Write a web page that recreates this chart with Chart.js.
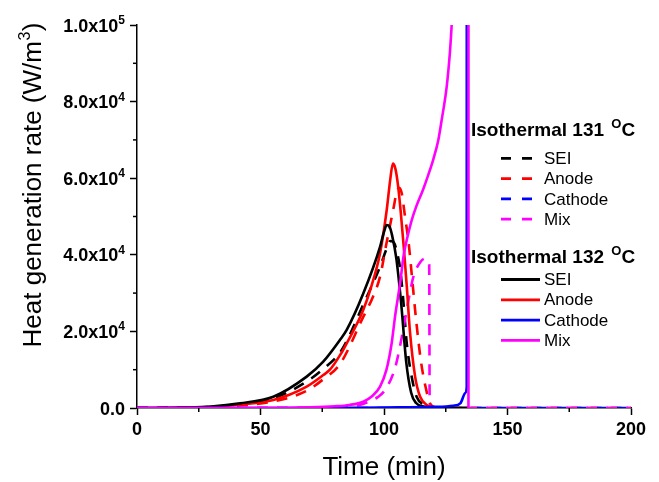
<!DOCTYPE html>
<html>
<head>
<meta charset="utf-8">
<script src="https://cdn.jsdelivr.net/npm/chart.js@4.4.0/dist/chart.umd.min.js"></script>
<style>
  body { margin: 0; background: #fff; }
</style>
</head>
<body>
<canvas id="heatChart" width="659" height="482"></canvas>
<script>
// time (min) and heat generation rate (W/m^3)
const components = ["SEI", "Anode", "Cathode", "Mix"];
const groupTemps = [131, 132];
const xTicks = [0, 50, 100, 150, 200];
const yTicks = [0, 20000, 40000, 60000, 80000, 100000];

// isothermal 131 C (dashed)
const sei131T = [0, 20, 30, 41.7, 55.2, 68.7, 75.4, 82.2, 84.9, 91.6, 98.4, 101, 102.5, 104, 105.5, 106.5, 107.8, 109.2, 111.2, 113.2, 115.9, 120, 125, 200];
const sei131V = [0, 80, 300, 1000, 2500, 6900, 10200, 14500, 17500, 27000, 36900, 41500, 43600, 43200, 40000, 36500, 28200, 17000, 8200, 2950, 1000, 150, 0, 0];
const anode131T = [0, 20, 30, 41.7, 55.2, 68.7, 75.4, 82.2, 91.6, 95.5, 98.4, 101, 103.8, 105.2, 106.2, 107.2, 108.5, 110, 111.5, 113, 115, 117, 118.6, 121, 125, 200];
const anode131V = [0, 50, 200, 700, 1700, 4500, 7500, 11500, 23800, 29000, 34300, 43000, 52000, 56500, 57500, 56000, 50000, 43000, 33000, 23000, 12000, 5000, 1200, 100, 0, 0];
const cathode131T = [0, 100, 200];
const cathode131V = [0, 0, 0];
const mix131T = [0, 60, 80, 90, 95, 97.6, 100.4, 104.5, 107.5, 110, 112, 114.6, 116.6, 118.3, 118.5, 125, 200];
const mix131V = [0, 0, 100, 800, 2000, 2900, 4700, 10500, 19500, 28500, 34500, 38000, 39000, 37500, 0, 0, 0];

// isothermal 132 C (solid), runs stop at thermal runaway
const sei132T = [0, 20, 30, 41.7, 55.2, 68.7, 75.4, 82.2, 84.9, 91.6, 98.4, 100, 101.1, 102.2, 103.3, 105, 107, 109, 111, 113, 116, 120, 125, 134.2];
const sei132V = [0, 100, 350, 1200, 2950, 8200, 12100, 17800, 20400, 29900, 42100, 46000, 47800, 47400, 45000, 39000, 27000, 12000, 4000, 1300, 400, 80, 0, 0];
const anode132T = [0, 20, 30, 41.7, 55.2, 68.7, 75.4, 78.1, 82.2, 84.9, 91.6, 95, 98.4, 101.1, 102.5, 103.6, 104.6, 105.6, 106.8, 108, 109.2, 110.5, 112.6, 114.6, 117.3, 120, 125, 134.2];
const anode132V = [0, 60, 250, 900, 2100, 5600, 8600, 10000, 13800, 16900, 25600, 32000, 40400, 51700, 59500, 63800, 62500, 58500, 51000, 42000, 32000, 20000, 8200, 3000, 800, 150, 0, 0];
const cathode132T = [0, 70, 80, 100, 120, 128, 131, 133, 133.5, 133.9];
const cathode132V = [0, 0, 50, 150, 300, 600, 1300, 4000, 5500, 3000000];
const mix132T = [0, 50, 70, 80, 86, 91.6, 95, 98.4, 101, 103.1, 104.5, 106.5, 108, 109.8, 111.2, 113, 115.8, 118, 120, 122, 123.3, 125.4, 126.7, 127.4, 128, 130, 134.0, 134.2];
const mix132V = [0, 30, 200, 450, 800, 1650, 3000, 5600, 10000, 16900, 24000, 32500, 40000, 45500, 49000, 52500, 57000, 61000, 65000, 70000, 75000, 84000, 93000, 100000, 108000, 130000, 3000000, 0];

const colors = { SEI: "#000000", Anode: "#ff0000", Cathode: "#0000ff", Mix: "#ff00ff" };
const FONT = "'Liberation Sans', Arial, sans-serif";

function pts(t, v) {
  return t.map((x, i) => ({ x, y: v[i] }));
}

function series(name, temp, t, v, dashed) {
  return {
    label: name,
    temp,
    data: pts(t, v),
    borderColor: colors[name],
    borderWidth: 2.6,
    borderDash: dashed ? [11, 9] : [],
    pointRadius: 0,
    fill: false,
    cubicInterpolationMode: "monotone",
  };
}

// first dataset is drawn on top
const datasets = [
  series("Mix", 132, mix132T, mix132V, false),
  series("Cathode", 132, cathode132T, cathode132V, false),
  series("SEI", 132, sei132T, sei132V, false),
  series("Anode", 132, anode132T, anode132V, false),
  series("Mix", 131, mix131T, mix131V, true),
  series("Cathode", 131, cathode131T, cathode131V, true),
  series("Anode", 131, anode131T, anode131V, true),
  series("SEI", 131, sei131T, sei131V, true),
];

// minor ticks, y labels with exponents, axis titles and the grouped legend
const decorations = {
  id: "decorations",
  afterDraw(chart) {
    const ctx = chart.ctx;
    const xs = chart.scales.x;
    const ys = chart.scales.y;
    const area = chart.chartArea;
    ctx.save();
    ctx.strokeStyle = "#000";
    ctx.fillStyle = "#000";
    ctx.lineWidth = 1.5;

    // minor ticks halfway between the labelled ones
    for (let i = 0; i < xTicks.length - 1; i++) {
      const px = xs.getPixelForValue((xTicks[i] + xTicks[i + 1]) / 2);
      ctx.beginPath();
      ctx.moveTo(px, area.bottom);
      ctx.lineTo(px, area.bottom + 4);
      ctx.stroke();
    }
    for (let i = 0; i < yTicks.length - 1; i++) {
      const py = ys.getPixelForValue((yTicks[i] + yTicks[i + 1]) / 2);
      ctx.beginPath();
      ctx.moveTo(area.left, py);
      ctx.lineTo(area.left - 4, py);
      ctx.stroke();
    }

    // y tick labels like 2.0x10^4
    ctx.textBaseline = "alphabetic";
    ctx.textAlign = "left";
    yTicks.forEach((v) => {
      const py = ys.getPixelForValue(v);
      let base = "0.0";
      let sup = "";
      if (v !== 0) {
        const e = Math.floor(Math.log10(v));
        base = (v / Math.pow(10, e)).toFixed(1) + "x10";
        sup = String(e);
      }
      ctx.font = "bold 12px " + FONT;
      const supW = sup ? ctx.measureText(sup).width : 0;
      ctx.font = "bold 18px " + FONT;
      const baseW = ctx.measureText(base).width;
      const right = area.left - 12;
      ctx.fillText(base, right - supW - baseW, py + 6.5);
      if (sup) {
        ctx.font = "bold 12px " + FONT;
        ctx.fillText(sup, right - supW, py - 1);
      }
    });

    // axis titles
    ctx.font = "26px " + FONT;
    ctx.textAlign = "center";
    ctx.fillText("Time (min)", (area.left + area.right) / 2, 475);

    ctx.save();
    ctx.translate(41, 185);
    ctx.rotate(-Math.PI / 2);
    const t1 = "Heat generation rate (W/m";
    const t3 = ")";
    ctx.font = "26px " + FONT;
    const w1 = ctx.measureText(t1).width;
    const w3 = ctx.measureText(t3).width;
    ctx.font = "16px " + FONT;
    const w2 = ctx.measureText("3").width + 1;
    let sx = -(w1 + w2 + w3) / 2;
    ctx.textAlign = "left";
    ctx.font = "26px " + FONT;
    ctx.fillText(t1, sx, 0);
    ctx.font = "16px " + FONT;
    ctx.fillText("3", sx + w1 + 0.5, -11);
    ctx.font = "26px " + FONT;
    ctx.fillText(t3, sx + w1 + w2, 0);
    ctx.restore();

    // legend, one block per temperature
    const blocks = [
      { temp: groupTemps[0], titleY: 136, firstRow: 158.3, dashed: true },
      { temp: groupTemps[1], titleY: 263, firstRow: 279.5, dashed: false },
    ];
    blocks.forEach((b) => {
      ctx.textAlign = "left";
      ctx.textBaseline = "alphabetic";
      ctx.font = "bold 19px " + FONT;
      const head = "Isothermal " + b.temp + " ";
      ctx.fillText(head, 471, b.titleY);
      let hx = 471 + ctx.measureText(head).width + 2;
      ctx.font = "bold 13px " + FONT;
      ctx.fillText("O", hx, b.titleY - 8);
      hx += ctx.measureText("O").width;
      ctx.font = "bold 19px " + FONT;
      ctx.fillText("C", hx, b.titleY);

      components.forEach((name, i) => {
        const ry = b.firstRow + i * 20.3;
        ctx.strokeStyle = colors[name];
        ctx.lineWidth = 2.8;
        ctx.setLineDash(b.dashed ? [10, 11] : []);
        ctx.beginPath();
        ctx.moveTo(501, ry);
        ctx.lineTo(540, ry);
        ctx.stroke();
        ctx.setLineDash([]);
        ctx.font = "17px " + FONT;
        ctx.textBaseline = "middle";
        ctx.fillText(name, 544, ry + 1);
      });
    });
    ctx.restore();
  },
};

new Chart(document.getElementById("heatChart"), {
  type: "line",
  data: { datasets },
  options: {
    responsive: false,
    animation: false,
    layout: { padding: { top: 25, right: 28, left: 0, bottom: 0 } },
    plugins: { legend: { display: false }, tooltip: { enabled: false } },
    scales: {
      x: {
        type: "linear",
        min: 0,
        max: 200,
        afterBuildTicks: (scale) => {
          scale.ticks = xTicks.map((value) => ({ value }));
        },
        afterFit: (scale) => {
          scale.height = 74;
        },
        ticks: {
          color: "#000",
          font: { family: FONT, size: 18, weight: "bold" },
          padding: 4,
          maxRotation: 0,
        },
        grid: { drawOnChartArea: false, tickLength: 7, tickColor: "#000", tickWidth: 1.5 },
        border: { color: "#000", width: 1.5 },
      },
      y: {
        type: "linear",
        min: 0,
        max: 100000,
        afterBuildTicks: (scale) => {
          scale.ticks = yTicks.map((value) => ({ value }));
        },
        afterFit: (scale) => {
          scale.width = 137;
        },
        ticks: { display: false },
        grid: { drawOnChartArea: false, tickLength: 7, tickColor: "#000", tickWidth: 1.5 },
        border: { color: "#000", width: 1.5 },
      },
    },
  },
  plugins: [decorations],
});
</script>
</body>
</html>
